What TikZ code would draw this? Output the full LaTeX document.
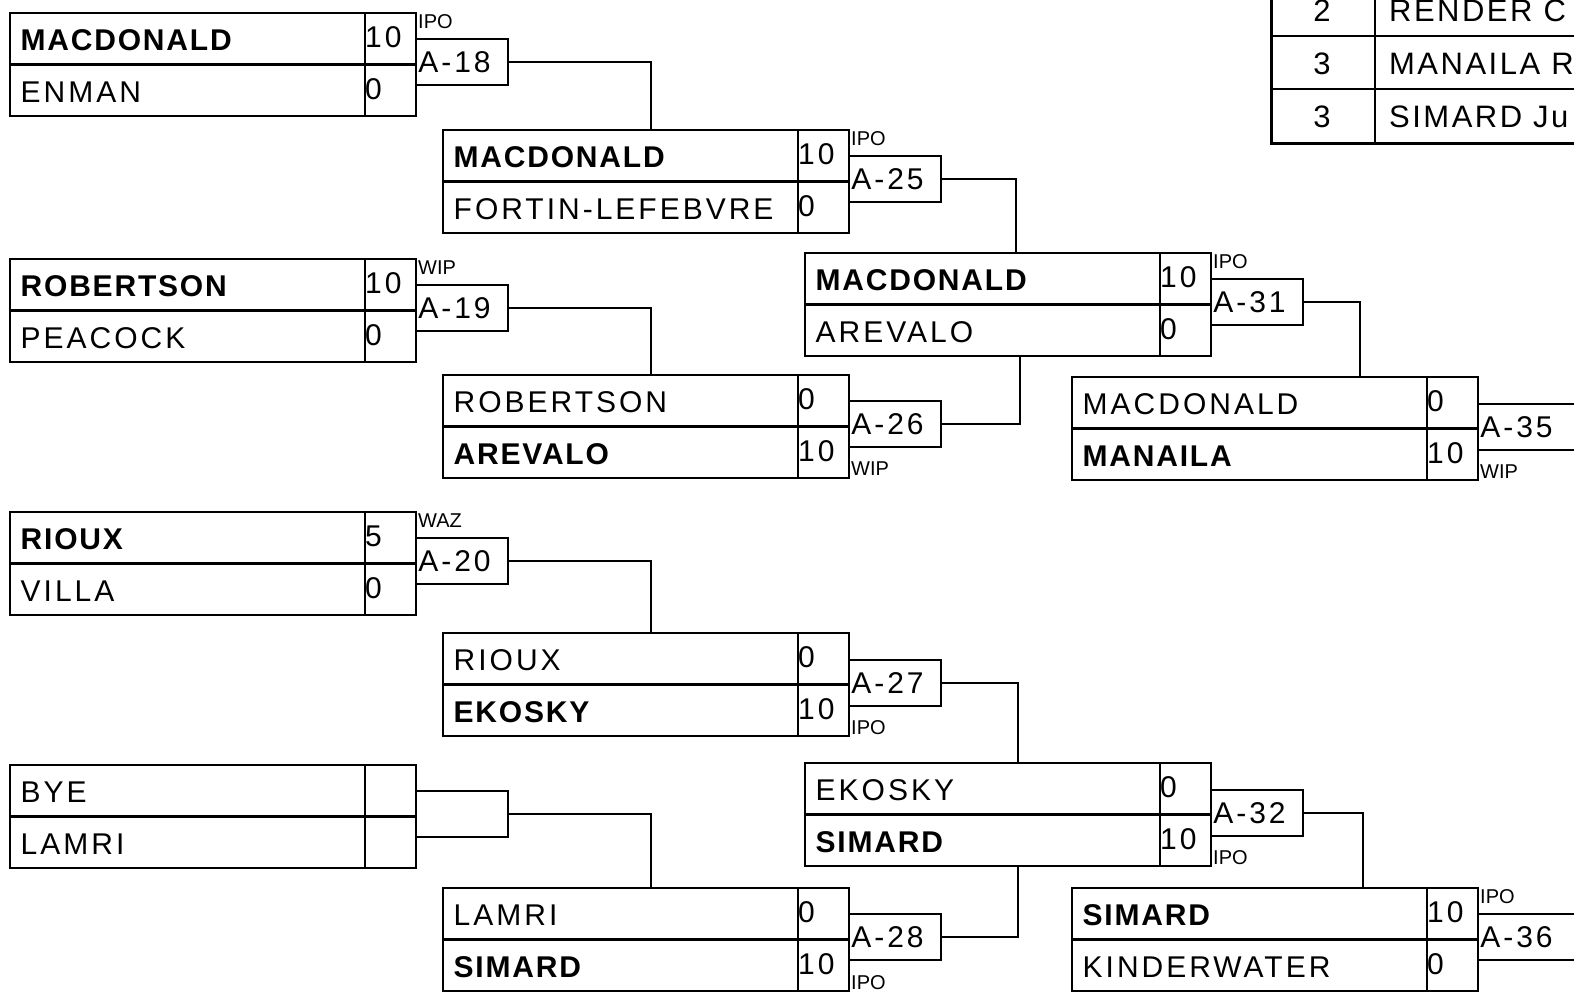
\documentclass[tikz,border=0pt]{standalone}
\usepackage{fontspec}
\setmainfont{Liberation Sans}[LetterSpace=10, BoldFeatures={LetterSpace=6}]
\newfontfamily\smallfnt{Liberation Sans}
\newfontfamily\tablefnt{Liberation Sans}[LetterSpace=8]
\tikzset{
  box/.style={draw, line width=1.8pt, minimum width=406pt, minimum height=103pt, inner sep=0pt, anchor=north west},
  lbox/.style={draw, line width=1.6pt, minimum height=46pt, text width=87pt, align=left, inner xsep=2.5pt, inner ysep=0pt, anchor=west, font=\fontsize{30}{32}\selectfont},
  wlbox/.style={lbox, text width=140pt},
  conn/.style={line width=1.5pt},
  nm/.style={anchor=base west, inner sep=0pt, font=\fontsize{30}{32}\selectfont},
  tag/.style={anchor=base west, inner sep=0pt, font=\smallfnt\fontsize{20}{22}\selectfont},
  tbl/.style={anchor=base west, inner sep=0pt, font=\tablefnt\fontsize{31}{33}\selectfont},
  tblc/.style={anchor=base, inner sep=0pt, font=\tablefnt\fontsize{31}{33}\selectfont},
}
% #1 id, #2 x, #3 y(top), #4 name1, #5 score1, #6 name2, #7 score2
\newcommand\matchbox[7]{%
  \node[box] (#1) at (#2,#3) {};
  \draw[line width=2.4pt] (#1.west) -- (#1.east);
  \draw[line width=1.8pt] ([xshift=-52pt]#1.north east) -- ([xshift=-52pt]#1.south east);
  \node[nm] (#1n1) at (#2+11.5,#3+38.5) {#4};
  \node[nm] (#1s1) at (#2+356,#3+35) {#5};
  \node[nm] (#1n2) at (#2+11.5,#3+90) {#6};
  \node[nm] (#1s2) at (#2+356,#3+87) {#7};
}
\begin{document}
\begin{tikzpicture}[x=1pt,y=-1pt]
\useasboundingbox (0,0) rectangle (1574,991);
\fill[white] (0,0) rectangle (1574,991);
\clip (0,0) rectangle (1574,991);

% ---------- round 1 ----------
\matchbox{M18}{9}{12}{\bfseries MACDONALD}{10}{ENMAN}{0}
\matchbox{M19}{9}{258}{\bfseries ROBERTSON}{10}{PEACOCK}{0}
\matchbox{M20}{9}{511}{\bfseries RIOUX}{5}{VILLA}{0}
\matchbox{MB}{9}{764}{BYE}{}{LAMRI}{}

\node[lbox] (L18) at (415,62) {A-18};
\node[lbox] (L19) at (415,308) {A-19};
\node[lbox] (L20) at (415,561) {A-20};
\node[lbox] (LB) at (415,814) {};
\node[tag] (t18) at (418,28) {IPO};
\node[tag] (t19) at (418,274) {WIP};
\node[tag] (t20) at (418,527) {WAZ};

% ---------- round 2 ----------
\matchbox{M25}{442}{129}{\bfseries MACDONALD}{10}{FORTIN-LEFEBVRE}{0}
\matchbox{M26}{442}{374}{ROBERTSON}{0}{\bfseries AREVALO}{10}
\matchbox{M27}{442}{632}{RIOUX}{0}{\bfseries EKOSKY}{10}
\matchbox{M28}{442}{887}{LAMRI}{0}{\bfseries SIMARD}{10}

\node[lbox] (L25) at (848,179) {A-25};
\node[lbox] (L26) at (848,424) {A-26};
\node[lbox] (L27) at (848,683) {A-27};
\node[lbox] (L28) at (848,937) {A-28};
\node[tag] (t25) at (851,145) {IPO};
\node[tag] (t26) at (851,475) {WIP};
\node[tag] (t27) at (851,734) {IPO};
\node[tag] (t28) at (851,989) {IPO};

% ---------- round 3 ----------
\matchbox{M31}{804}{252}{\bfseries MACDONALD}{10}{AREVALO}{0}
\matchbox{M32}{804}{762}{EKOSKY}{0}{\bfseries SIMARD}{10}

\node[lbox] (L31) at (1210,302) {A-31};
\node[lbox] (L32) at (1210,813) {A-32};
\node[tag] (t31) at (1213,268) {IPO};
\node[tag] (t32) at (1213,864) {IPO};

% ---------- round 4 ----------
\matchbox{M35}{1071}{376}{MACDONALD}{0}{\bfseries MANAILA}{10}
\matchbox{M36}{1071}{887}{\bfseries SIMARD}{10}{KINDERWATER}{0}

\node[wlbox] (L35) at (1477,427) {A-35};
\node[wlbox] (L36) at (1477,937) {A-36};
\node[tag] (t35) at (1480,478) {WIP};
\node[tag] (t36) at (1480,903) {IPO};

% ---------- connectors ----------
\draw[conn] (L18.east) -| ([xshift=5pt]M25.north);
\draw[conn] (L19.east) -| ([xshift=5pt]M26.north);
\draw[conn] (L20.east) -| ([xshift=5pt]M27.north);
\draw[conn] (LB.east) -| ([xshift=5pt]M28.north);
\draw[conn] (L25.east) -| ([xshift=8pt]M31.north);
\draw[conn] (L26.east) -| ([xshift=12pt]M31.south);
\draw[conn] (L27.east) -| ([xshift=10pt]M32.north);
\draw[conn] (L28.east) -| ([xshift=10pt]M32.south);
\draw[conn] (L31.east) -| ([xshift=85pt]M35.north);
\draw[conn] (L32.east) -| ([xshift=88pt]M36.north);

% ---------- standings table ----------
\draw[line width=2.2pt] (1375,-20) -- (1375,143);
\draw[line width=2.2pt] (1271,36) -- (1580,36);
\draw[line width=2.2pt] (1271,89) -- (1580,89);
\draw[line width=3pt] (1271,-20) -- (1271,143) -- (1580,143);
\node[tblc] (r1) at (1322,21) {2};
\node[tblc] (r2) at (1322,74) {3};
\node[tblc] (r3) at (1322,127) {3};
\node[tbl] (p1) at (1389,21) {RENDER C};
\node[tbl] (p2) at (1389,74) {MANAILA R};
\node[tbl] (p3) at (1389,127) {SIMARD Ju};
\end{tikzpicture}
\end{document}
